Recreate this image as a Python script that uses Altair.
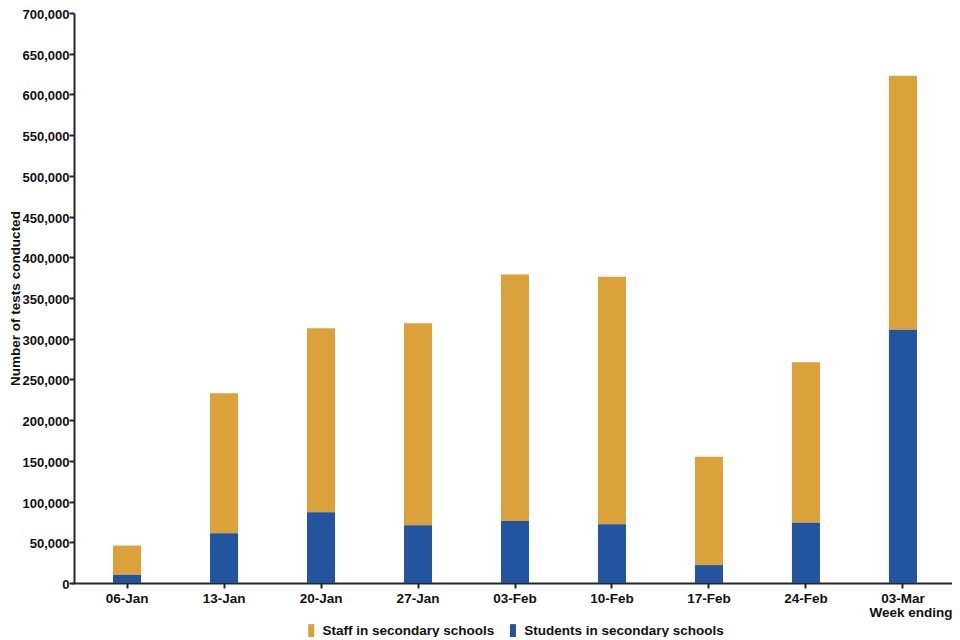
import altair as alt
import pandas as pd

weeks = ["06-Jan", "13-Jan", "20-Jan", "27-Jan", "03-Feb", "10-Feb", "17-Feb", "24-Feb", "03-Mar"]
students = [10000, 61000, 87000, 71000, 76000, 72000, 22000, 74000, 311000]
staff = [36000, 172000, 226000, 248000, 303000, 304000, 133000, 197000, 312000]
series = ["Staff in secondary schools", "Students in secondary schools"]
colors = ["#DBA13B", "#22559E"]
y_ticks = [0, 50000, 100000, 150000, 200000, 250000, 300000, 350000,
           400000, 450000, 500000, 550000, 600000, 650000, 700000]

rows = []
for w, st, su in zip(weeks, staff, students):
    rows.append({"week": w, "series": series[0], "tests": st, "stack_order": 1})
    rows.append({"week": w, "series": series[1], "tests": su, "stack_order": 0})
df = pd.DataFrame(rows)

FONT = "Liberation Sans"
TXT = "#111111"
AX = "#262626"

chart = alt.Chart(df).mark_bar().encode(
    x=alt.X(
        "week:N",
        sort=weeks,
        scale=alt.Scale(range=[-2, 884], paddingInner=0.711, paddingOuter=0.423),
        axis=alt.Axis(
            title="Week ending",
            labelAngle=0,
            labelFont=FONT, labelFontSize=13.5, labelFontWeight="bold", labelColor=TXT,
            labelPadding=3, tickSize=5, tickWidth=2, tickColor=AX,
            domainColor=AX, domainWidth=2,
            titleFont=FONT, titleFontSize=13.5, titleFontWeight="bold", titleColor=TXT,
            titleX=878, titleY=33, titleAlign="right", titleBaseline="alphabetic",
            titleAnchor="end",
        ),
    ),
    y=alt.Y(
        "tests:Q",
        stack="zero",
        scale=alt.Scale(domain=[0, 700000], nice=False),
        axis=alt.Axis(
            values=y_ticks, format=",d",
            title="Number of tests conducted",
            grid=False,
            labelFont=FONT, labelFontSize=13, labelFontWeight="bold", labelColor=TXT,
            labelPadding=0, labelOffset=1.5, tickSize=5, tickWidth=2, tickColor=AX,
            domainColor=AX, domainWidth=2,
            titleFont=FONT, titleFontSize=13.5, titleFontWeight="bold", titleColor=TXT,
            titleAngle=270, titleX=-66, titleY=285, titleBaseline="top", titleAlign="center",
        ),
    ),
    color=alt.Color(
        "series:N",
        scale=alt.Scale(domain=series, range=colors),
        legend=alt.Legend(
            title=None, orient="none", direction="horizontal",
            legendX=230.5, legendY=610.5,
            labelFont=FONT, labelFontSize=13.5, labelFontWeight="bold", labelColor=TXT,
            symbolType="M-0.46,-1H0.46V1H-0.46Z", symbolSize=169,
            symbolStrokeWidth=0, symbolOpacity=1,
            labelOffset=4.5, columnPadding=11.7, labelLimit=400,
        ),
    ),
    order=alt.Order("stack_order:Q", sort="ascending"),
).properties(
    width=878, height=570,
    padding={"left": 66, "top": 5, "right": 0, "bottom": 54},
    autosize=alt.AutoSizeParams(type="none"),
    background="white",
).configure_view(stroke=None)

chart.save("out.html", embed_options={"renderer": "svg", "actions": False})
